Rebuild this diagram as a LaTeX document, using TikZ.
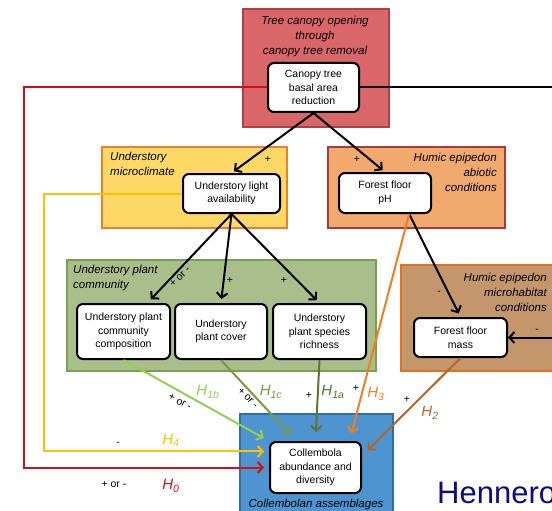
\documentclass[tikz,border=0pt]{standalone}
\usepackage{fontspec}
\setmainfont{Liberation Sans}
\usetikzlibrary{arrows.meta,calc}
\definecolor{redfill}{RGB}{217,102,104}
\definecolor{redbord}{RGB}{176,64,66}
\definecolor{yelfill}{RGB}{255,217,102}
\definecolor{yelbord}{RGB}{237,125,49}
\definecolor{abfill}{RGB}{241,169,110}
\definecolor{abbord}{RGB}{168,60,60}
\definecolor{grfill}{RGB}{169,190,138}
\definecolor{grbord}{RGB}{120,160,80}
\definecolor{brfill}{RGB}{196,150,108}
\definecolor{brbord}{RGB}{230,110,30}
\definecolor{blfill}{RGB}{78,148,208}
\definecolor{blbord}{RGB}{46,110,170}
\definecolor{cred}{RGB}{208,16,24}
\definecolor{cyel}{RGB}{255,192,0}
\definecolor{clgr}{RGB}{146,208,80}
\definecolor{colv}{RGB}{122,154,64}
\definecolor{cdgr}{RGB}{90,120,50}
\definecolor{cora}{RGB}{240,125,30}
\definecolor{cbrn}{RGB}{184,100,40}
\definecolor{hnavy}{RGB}{10,10,130}
\tikzset{
  grp/.style={draw, line width=1.6pt, anchor=north west, inner sep=0pt},
  inbox/.style={draw=black, fill=white, line width=2pt, rounded corners=6pt, align=center, inner sep=0pt, font=\fontsize{10.5}{13.5}\selectfont},
  lab/.style={font=\fontsize{11.5}{15}\selectfont\itshape, inner sep=0pt},
  sgn/.style={font=\fontsize{10.5}{12}\selectfont, inner sep=0pt},
  hyp/.style={font=\fontsize{15}{17}\selectfont\itshape, inner sep=0pt},
  arr/.style={line width=2pt, -{Straight Barb[length=5pt,width=11pt]}},
}
\begin{document}
\begin{tikzpicture}[x=1pt,y=-1pt]
\useasboundingbox (0,0) rectangle (552,511);
\clip (0,0) rectangle (552,511);
% group boxes
\node[grp, draw=redbord, fill=redfill, minimum width=146pt, minimum height=118pt] (redbox) at (242,8) {};
\node[grp, draw=yelbord, fill=yelfill, minimum width=185pt, minimum height=81pt] (yelbox) at (101,146) {};
\node[grp, draw=abbord, fill=abfill, minimum width=177pt, minimum height=81pt] (abbox) at (327,146) {};
\node[grp, draw=grbord, fill=grfill, minimum width=309pt, minimum height=111pt] (grbox) at (66,259) {};
\node[grp, draw=brbord, fill=brfill, minimum width=170pt, minimum height=106pt] (brbox) at (400,264) {};
\node[grp, draw=blbord, fill=blfill, minimum width=153pt, minimum height=110pt] (blbox) at (239,413) {};
% group labels
\node[lab, align=center] (redlab) at (315,37) {Tree canopy opening\\through\\canopy tree removal};
\node[lab, align=left, anchor=west] (yellab) at (110,164) {Understory\\microclimate};
\node[lab, align=right, anchor=east] (ablab) at (497,172) {Humic epipedon\\abiotic\\conditions};
\node[lab, align=left, anchor=west] (grlab) at (73,278) {Understory plant\\community};
\node[lab, align=right, anchor=east] (brlab) at (547,292) {Humic epipedon\\microhabitat\\conditions};
\node[lab] (bllab) at (316,505) {Collembolan assemblages};
% inner nodes
\node[inbox, minimum width=91pt, minimum height=49pt] (canopy) at (313.5,87.5) {Canopy tree\\basal area\\reduction};
\node[inbox, minimum width=97pt, minimum height=39pt] (light) at (231.5,193.5) {Understory light\\availability};
\node[inbox, minimum width=92pt, minimum height=40pt] (ph) at (385,193) {Forest floor\\pH};
\node[inbox, minimum width=93pt, minimum height=55pt] (comp) at (123.5,331.5) {Understory plant\\community\\composition};
\node[inbox, minimum width=92pt, minimum height=55pt] (cover) at (221,331.5) {Understory\\plant cover};
\node[inbox, minimum width=93pt, minimum height=55pt] (rich) at (319.5,331.5) {Understory\\plant species\\richness};
\node[inbox, minimum width=93pt, minimum height=39pt] (mass) at (460.5,337.5) {Forest floor\\mass};
\node[inbox, minimum width=91pt, minimum height=51pt] (coll) at (315.5,467.5) {Collembola\\abundance and\\diversity};
% connectors
\draw[arr, cred] (canopy.west) -- ++(-243,0) |- (coll.west) [shorten >=5pt];
\draw[arr, black] (canopy.east) -- ++(215,0) |- (mass.east);
\draw[arr, cyel] (light.west) -- ++(-138,0) |- (coll.161) [shorten >=5pt];
\draw[arr, black, shorten >=3pt] (canopy.south) -- (light.north);
\draw[arr, black, shorten >=3pt] (canopy.south) -- (ph.north);
\draw[arr, black, shorten >=5pt] (light.south) -- (comp.50);
\draw[arr, black, shorten >=4pt] (light.south) -- (cover.north);
\draw[arr, black, shorten >=4pt] (light.south) -- (rich.north);
\draw[arr, black, shorten >=4pt] (ph.-41) -- (mass.north);
\draw[arr, cora, shorten >=8pt] (ph.-41) -- (coll.38);
\draw[arr, clgr, shorten >=6pt] (comp.south) -- (coll.north west);
\draw[arr, colv, shorten >=9pt] (cover.south) -- (coll.126);
\draw[arr, cdgr, shorten >=9pt] (rich.south) -- (coll.north);
\draw[arr, cbrn, shorten >=8pt] (mass.south) -- (coll.14);
% sign labels
\node[sgn] (s1) at (268,159) {+};
\node[sgn] (s2) at (357,159) {+};
\node[sgn, rotate=45] (s3) at (180,277) {+ or -};
\node[sgn] (s4) at (230,280) {+};
\node[sgn] (s5) at (284,280) {+};
\node[sgn] (s6) at (439,293) {-};
\node[sgn] (s7) at (537,331) {-};
\node[sgn, rotate=-28] (s8) at (180,402) {+ or -};
\node[sgn, rotate=-45] (s9) at (248,398) {+ or -};
\node[sgn] (s10) at (309,395) {+};
\node[sgn] (s11) at (356,388) {+};
\node[sgn] (s12) at (407,399) {+};
\node[sgn] (s13) at (118,444) {-};
\node[sgn] (s14) at (114,485) {+ or -};
% hypothesis labels
\node[hyp, text=clgr] (h1b) at (208,392) {H\textsubscript{1b}};
\node[hyp, text=colv] (h1c) at (271,392) {H\textsubscript{1c}};
\node[hyp, text=cdgr] (h1a) at (333,392) {H\textsubscript{1a}};
\node[hyp, text=cora] (h3) at (376,394) {H\textsubscript{3}};
\node[hyp, text=cbrn] (h2) at (430,413) {H\textsubscript{2}};
\node[hyp, text=cyel] (h4) at (171,440) {H\textsubscript{4}};
\node[hyp, text=cred] (h0) at (171,486) {H\textsubscript{0}};
% author
\node[anchor=base west, inner sep=0pt, text=hnavy, font=\fontsize{31}{33}\selectfont] (author) at (437,503) {Henneron};
\end{tikzpicture}
\end{document}
